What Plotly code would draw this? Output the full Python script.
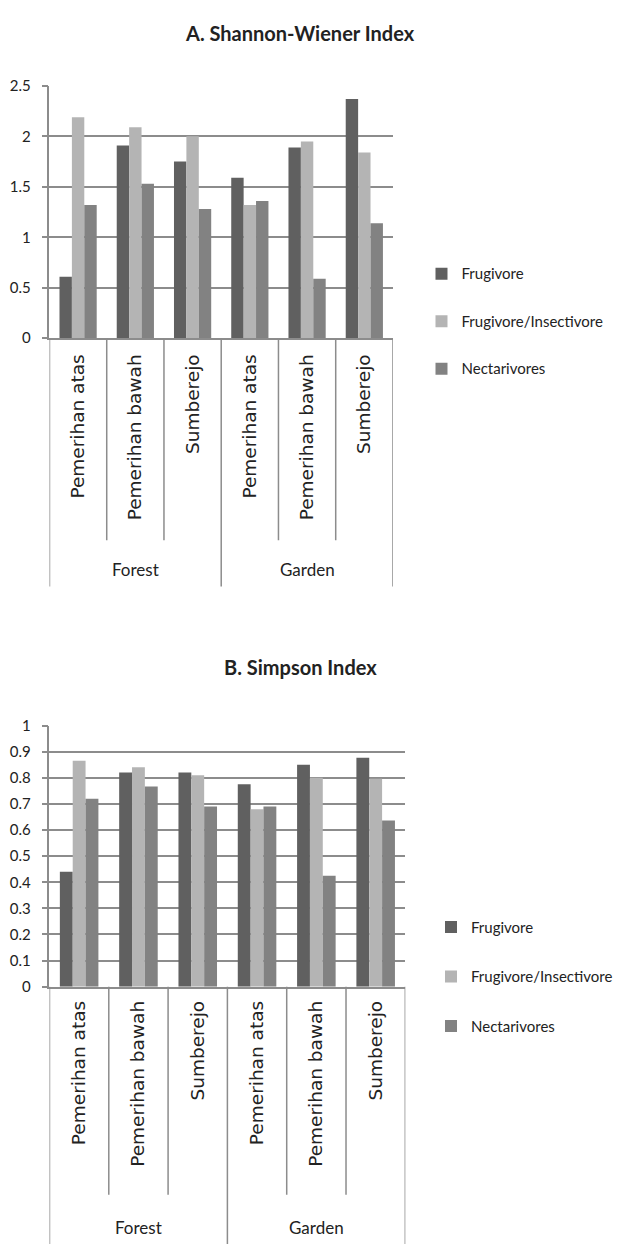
import plotly.graph_objects as go

sites = ["Pemerihan atas", "Pemerihan bawah", "Sumberejo",
         "Pemerihan atas ", "Pemerihan bawah ", "Sumberejo "]
site_labels = ["Pemerihan atas", "Pemerihan bawah", "Sumberejo",
               "Pemerihan atas", "Pemerihan bawah", "Sumberejo"]
habitats = ["Forest", "Garden"]
series_names = ["Frugivore", "Frugivore/Insectivore", "Nectarivores"]

shannon_frugivore = [0.61, 1.91, 1.75, 1.59, 1.89, 2.37]
shannon_frug_insect = [2.19, 2.09, 2.00, 1.32, 1.95, 1.84]
shannon_nectarivores = [1.32, 1.53, 1.28, 1.36, 0.59, 1.14]

simpson_frugivore = [0.44, 0.82, 0.82, 0.775, 0.85, 0.877]
simpson_frug_insect = [0.865, 0.84, 0.81, 0.68, 0.80, 0.796]
simpson_nectarivores = [0.72, 0.767, 0.69, 0.69, 0.425, 0.636]

colors = ["#606060", "#b4b4b4", "#828282"]
GRID = "#8c8c8c"
TXT = "#222222"
W, H = 618, 1250

def py(p):
    return 1 - p / H

fig = go.Figure()

top_series = [shannon_frugivore, shannon_frug_insect, shannon_nectarivores]
bot_series = [simpson_frugivore, simpson_frug_insect, simpson_nectarivores]

for i, (name, vals) in enumerate(zip(series_names, top_series)):
    fig.add_trace(go.Bar(x=sites, y=vals, name=name, marker_color=colors[i],
                         marker_line_width=0, xaxis="x", yaxis="y",
                         legend="legend", legendgroup="t%d" % i))
for i, (name, vals) in enumerate(zip(series_names, bot_series)):
    fig.add_trace(go.Bar(x=sites, y=vals, name=name, marker_color=colors[i],
                         marker_line_width=0, xaxis="x2", yaxis="y2",
                         legend="legend2", legendgroup="b%d" % i))

tickfont = dict(family="Lato", size=15, color=TXT)
catfont = dict(family="DejaVu Sans", size=18.5, color=TXT)

def xaxis_cfg(domain, standoff):
    return dict(domain=domain, type="category", range=[-0.5, 5.5],
                tickmode="array", tickvals=sites, ticktext=site_labels,
                tickangle=-90, tickfont=catfont, ticks="", showgrid=False,
                showline=True, linecolor=GRID, linewidth=1.5,
                ticklabelstandoff=standoff, fixedrange=True)

def yaxis_cfg(domain, rng, dtick, anchor):
    return dict(domain=domain, range=rng, dtick=dtick, tick0=0,
                showgrid=True, gridcolor=GRID, gridwidth=1.5,
                showline=True, linecolor=GRID, linewidth=1.5,
                ticks="outside", ticklen=6, tickcolor=GRID, tickwidth=1.5,
                tickfont=tickfont, zeroline=False, anchor=anchor,
                ticklabelstandoff=8, fixedrange=True)

legfont = dict(family="Lato", size=15, color=TXT)

fig.update_layout(
    width=W, height=H,
    margin=dict(l=0, r=0, t=0, b=0),
    paper_bgcolor="white", plot_bgcolor="white",
    barmode="group", bargap=0.35, bargroupgap=0,
    xaxis=xaxis_cfg([52 / W, 413 / W], 7),
    yaxis=yaxis_cfg([py(333), py(77)], [0, 2.5], 0.5, "x"),
    xaxis2=dict(xaxis_cfg([52 / W, 426 / W], 5), anchor="y2"),
    yaxis2=yaxis_cfg([py(991), py(726)], [0, 1], 0.1, "x2"),
    legend=dict(x=443 / W, xanchor="left", y=py(251), yanchor="top",
                font=legfont, traceorder="grouped", tracegroupgap=25,
                itemwidth=30, bgcolor="rgba(0,0,0,0)"),
    legend2=dict(x=453 / W, xanchor="left", y=py(914), yanchor="top",
                 font=legfont, traceorder="grouped", tracegroupgap=27,
                 itemwidth=30, bgcolor="rgba(0,0,0,0)"),
    showlegend=True,
    hovermode=False,
)

# Titles
fig.add_annotation(text="<b>A. Shannon-Wiener Index</b>", x=315 / W, y=py(23),
                   xref="paper", yref="paper", xanchor="center", yanchor="middle",
                   showarrow=False, font=dict(family="Lato", size=20, color=TXT))
fig.add_annotation(text="<b>B. Simpson Index</b>", x=316 / W, y=py(667),
                   xref="paper", yref="paper", xanchor="center", yanchor="middle",
                   showarrow=False, font=dict(family="Lato", size=20, color=TXT))

# Category dividers and habitat labels
def dividers(xref, y_axis_px, inner_end_px, outer_end_px):
    for k in range(7):
        xpos = k - 0.5
        end = outer_end_px if k in (0, 3, 6) else inner_end_px
        fig.add_shape(type="line", xref=xref, yref="paper",
                      x0=xpos, x1=xpos, y0=py(y_axis_px), y1=py(end),
                      line=dict(color=GRID, width=1.5))

dividers("x", 333, 538, 585)
dividers("x2", 991, 1202, 1252)

habfont = dict(family="Lato", size=17, color=TXT)
for j, hab in enumerate(habitats):
    fig.add_annotation(text=hab, x=1 + 3 * j, y=py(568), xref="x", yref="paper",
                       yanchor="middle", showarrow=False, font=habfont)
    fig.add_annotation(text=hab, x=1 + 3 * j, y=py(1235), xref="x2", yref="paper",
                       yanchor="middle", showarrow=False, font=habfont)

fig.write_html("out.html", config={"displayModeBar": False},
               post_script="document.body.style.margin='0';")
